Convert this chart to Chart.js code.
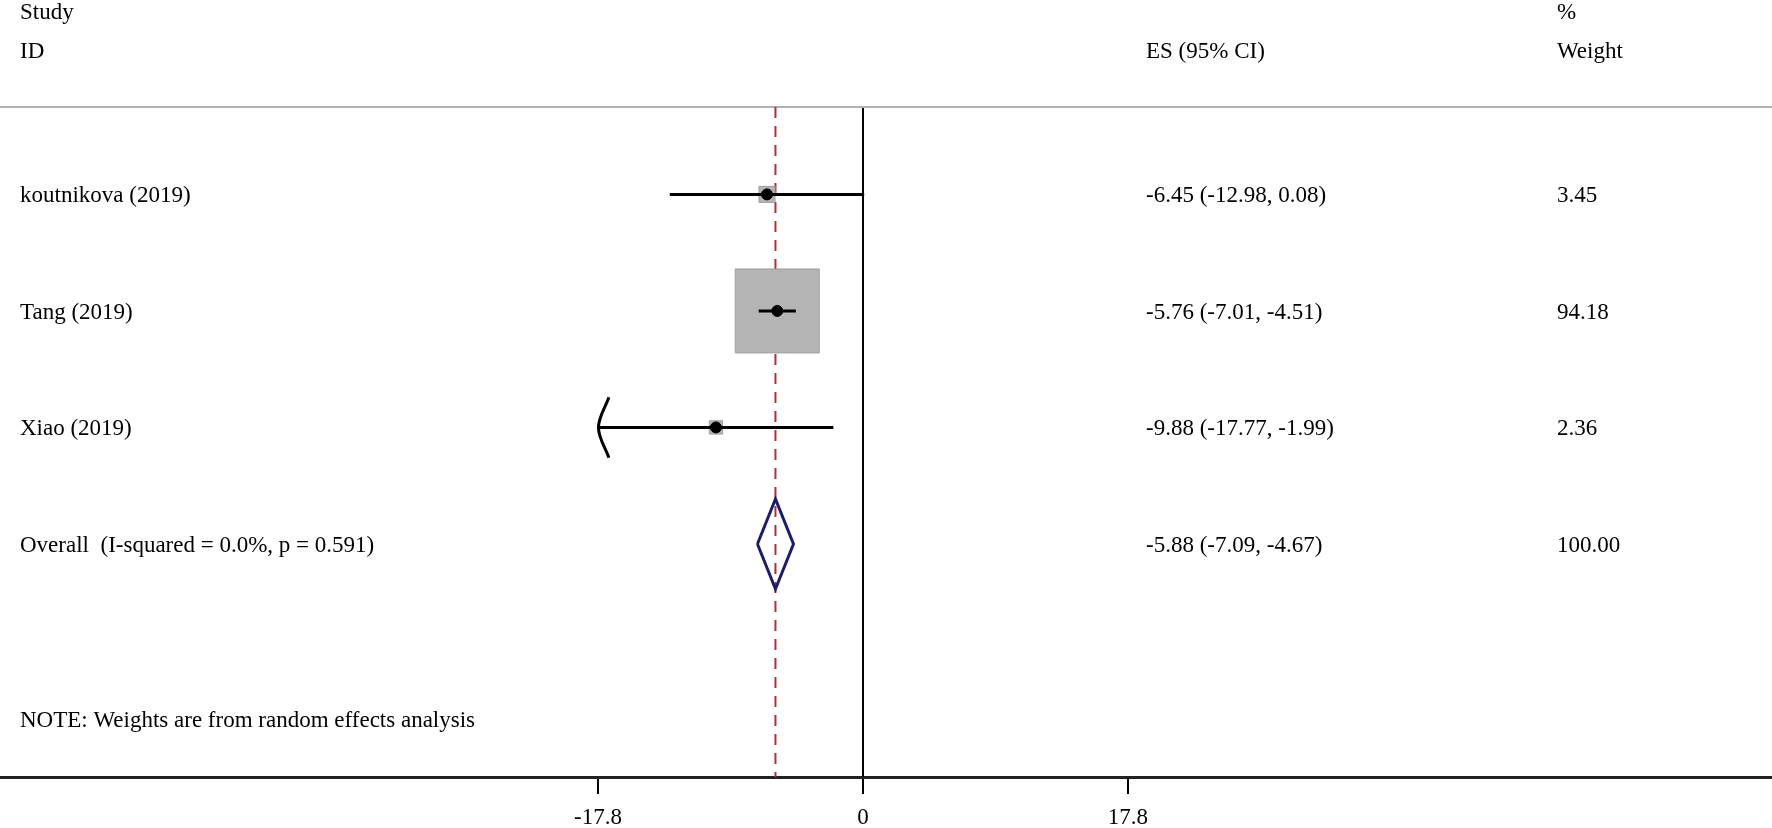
<!DOCTYPE html>
<html>
<head>
<meta charset="utf-8">
<script src="https://cdn.jsdelivr.net/npm/chart.js@4.4.1/dist/chart.umd.min.js"></script>
<style>
  html, body { margin: 0; padding: 0; background: #fff; }
  canvas { display: block; }
</style>
</head>
<body>
<canvas id="forest" width="1772" height="828"></canvas>
<script>
// --- datos del forest plot ---
const studies = ['koutnikova (2019)', 'Tang (2019)', 'Xiao (2019)'];
const es = [-6.45, -5.76, -9.88];
const ciLow = [-12.98, -7.01, -17.77];
const ciHigh = [0.08, -4.51, -1.99];
const weights = [3.45, 94.18, 2.36];
const arrowLow = [false, false, true];   // CI cortado por la izquierda

const overallLabel = 'Overall  (I-squared = 0.0%, p = 0.591)';
const overallEs = -5.88;
const overallLow = -7.09;
const overallHigh = -4.67;
const overallWeight = 100.00;

const xTicks = [-17.8, 0, 17.8];
const xTickLabels = ['-17.8', '0', '17.8'];
const note = 'NOTE: Weights are from random effects analysis';

// --- layout (pixels / rangos de ejes) ---
const FONT = '23px "Liberation Serif", "Times New Roman", serif';
const X_MIN = -57.97, X_MAX = 61.06;
const Y_MIN = 0.25, Y_MAX = 6.0;
const colStudy = 20, colEs = 1146, colW = 1557;
const textDy = 2;
const maxBox = 59.4;   // radio del cuadro con mayor peso

const rows = studies.map((s, i) => i + 1);
const overallRow = studies.length + 1;
const maxW = Math.max(...weights);

const fmt = v => v.toFixed(2);

// CI lines
const ciSets = studies.map((s, i) => ({
  type: 'line',
  data: [{x: ciLow[i], y: rows[i]}, {x: ciHigh[i], y: rows[i]}],
  borderColor: '#000', borderWidth: 3, pointRadius: 0, fill: false, order: 6
}));

// flechas
const arrowSets = [];
studies.forEach((s, i) => {
  if (!arrowLow[i]) return;
  arrowSets.push({
    type: 'line',
    data: [
      {x: ciLow[i] + 0.7, y: rows[i] - 0.26},
      {x: ciLow[i], y: rows[i]},
      {x: ciLow[i] + 0.7, y: rows[i] + 0.26}
    ],
    borderColor: '#000', borderWidth: 3, pointRadius: 0, tension: 0.35, fill: false, order: 6
  });
});

const datasets = [
  // linea gris superior
  {type: 'line', data: [{x: X_MIN, y: Y_MIN}, {x: X_MAX, y: Y_MIN}],
   borderColor: '#b0b0b0', borderWidth: 2, pointRadius: 0, order: 10, clip: false},
  // linea en cero
  {type: 'line', data: [{x: 0, y: Y_MIN}, {x: 0, y: Y_MAX}],
   borderColor: '#000', borderWidth: 2, pointRadius: 0, order: 10},
  // linea del efecto global
  {type: 'line', data: [{x: overallEs, y: Y_MIN}, {x: overallEs, y: Y_MAX}],
   borderColor: '#a8323a', borderWidth: 2, borderDash: [11, 8], pointRadius: 0, order: 9},
  // cuadros de peso
  {type: 'scatter', data: studies.map((s, i) => ({x: es[i], y: rows[i]})),
   pointStyle: 'rect',
   pointRadius: weights.map(w => maxBox * Math.sqrt(w / maxW)),
   backgroundColor: '#b4b4b4', borderColor: '#a0a0a0', borderWidth: 1, order: 8},
  ...ciSets,
  ...arrowSets,
  // estimaciones puntuales
  {type: 'scatter', data: studies.map((s, i) => ({x: es[i], y: rows[i]})),
   pointStyle: 'circle', pointRadius: 5.5, backgroundColor: '#000', borderColor: '#000', order: 4},
  // diamante global
  {type: 'line', data: [
      {x: overallLow, y: overallRow},
      {x: overallEs, y: overallRow - 0.386},
      {x: overallHigh, y: overallRow},
      {x: overallEs, y: overallRow + 0.386},
      {x: overallLow, y: overallRow}
    ],
   borderColor: '#1c1c6e', borderWidth: 3, pointRadius: 0, fill: false, order: 4}
];

// texto de columnas
const textPlugin = {
  id: 'forestText',
  afterDraw(chart) {
    const ctx = chart.ctx;
    const y = chart.scales.y;
    const py = v => y.getPixelForValue(v) + textDy;
    ctx.save();
    ctx.font = FONT;
    ctx.fillStyle = '#000';
    ctx.textBaseline = 'middle';
    ctx.textAlign = 'left';
    const hdr1 = py(-0.57), hdr2 = py(-0.24);
    ctx.fillText('Study', colStudy, hdr1);
    ctx.fillText('ID', colStudy, hdr2);
    ctx.fillText('ES (95% CI)', colEs, hdr2);
    ctx.fillText('%', colW, hdr1);
    ctx.fillText('Weight', colW, hdr2);
    studies.forEach((s, i) => {
      const ry = py(rows[i]);
      ctx.fillText(s, colStudy, ry);
      ctx.fillText(`${fmt(es[i])} (${fmt(ciLow[i])}, ${fmt(ciHigh[i])})`, colEs, ry);
      ctx.fillText(fmt(weights[i]), colW, ry);
    });
    const po = py(overallRow);
    ctx.fillText(overallLabel, colStudy, po);
    ctx.fillText(`${fmt(overallEs)} (${fmt(overallLow)}, ${fmt(overallHigh)})`, colEs, po);
    ctx.fillText(fmt(overallWeight), colW, po);
    ctx.fillText(note, colStudy, py(overallRow + 1.5));
    ctx.restore();
  }
};

new Chart(document.getElementById('forest'), {
  type: 'scatter',
  data: {datasets},
  options: {
    responsive: false,
    animation: false,
    devicePixelRatio: 1,
    layout: {autoPadding: false, padding: {top: 107, left: 0, right: 0, bottom: 0}},
    plugins: {legend: {display: false}, tooltip: {enabled: false}},
    scales: {
      x: {
        type: 'linear', min: X_MIN, max: X_MAX,
        afterBuildTicks: axis => { axis.ticks = xTicks.map(v => ({value: v})); },
        afterFit: axis => { axis.paddingLeft = 0; axis.paddingRight = 0; axis.height = 51; },
        ticks: {
          color: '#000', padding: 10, font: {family: '"Liberation Serif", serif', size: 23},
          callback: (v) => xTickLabels[xTicks.indexOf(v)]
        },
        grid: {drawOnChartArea: false, drawTicks: true, tickLength: 17, color: '#000', lineWidth: 2},
        border: {display: true, color: '#222', width: 3}
      },
      y: {type: 'linear', min: Y_MIN, max: Y_MAX, reverse: true, display: false}
    }
  },
  plugins: [textPlugin]
});
</script>
</body>
</html>
